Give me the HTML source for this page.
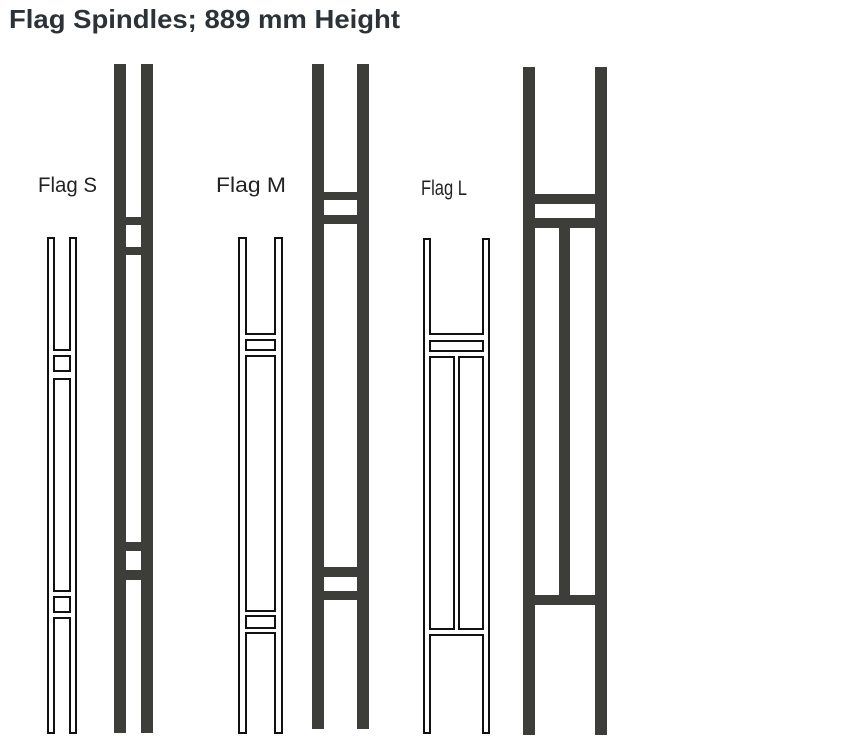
<!DOCTYPE html>
<html><head><meta charset="utf-8"><style>
html,body{margin:0;padding:0;background:#fff;}
svg{display:block;}
</style></head><body>
<svg width="855" height="737" viewBox="0 0 855 737" xmlns="http://www.w3.org/2000/svg">
<text x="9" y="28" font-family="Liberation Sans, sans-serif" font-weight="bold" font-size="26" fill="#2b3338" textLength="391" lengthAdjust="spacingAndGlyphs">Flag Spindles; 889 mm Height</text>
<g font-family="Liberation Sans, sans-serif" font-size="21" fill="#222">
<text x="38" y="192" textLength="59" lengthAdjust="spacingAndGlyphs">Flag S</text>
<text x="216" y="192" textLength="70" lengthAdjust="spacingAndGlyphs">Flag M</text>
<text x="421" y="195" textLength="46" lengthAdjust="spacingAndGlyphs">Flag L</text>
</g>
<g fill="#3d3d39">
<rect x="114" y="64" width="12" height="669"/>
<rect x="141" y="64" width="12" height="669"/>
<rect x="114" y="217" width="39" height="8"/>
<rect x="114" y="247" width="39" height="8"/>
<rect x="114" y="542" width="39" height="9"/>
<rect x="114" y="570" width="39" height="10"/>
<rect x="312" y="64" width="12" height="665"/>
<rect x="357" y="64" width="12" height="665"/>
<rect x="312" y="192" width="57" height="8"/>
<rect x="312" y="215" width="57" height="9"/>
<rect x="312" y="567" width="57" height="10"/>
<rect x="312" y="591" width="57" height="9"/>
<rect x="523" y="67" width="12" height="668"/>
<rect x="595" y="67" width="12" height="668"/>
<rect x="523" y="194" width="84" height="10"/>
<rect x="523" y="218" width="84" height="10"/>
<rect x="559" y="218" width="11" height="385"/>
<rect x="523" y="595" width="84" height="10"/>
</g>
<g fill="#111">
<rect x="47" y="237" width="8" height="497"/>
<rect x="69" y="237" width="8" height="497"/>
<rect x="47" y="349" width="30" height="8"/>
<rect x="47" y="370" width="30" height="10"/>
<rect x="47" y="590" width="30" height="8"/>
<rect x="47" y="611" width="30" height="8"/>
<rect x="238" y="237" width="9" height="497"/>
<rect x="274" y="237" width="9" height="497"/>
<rect x="238" y="333" width="45" height="8"/>
<rect x="238" y="349" width="45" height="8"/>
<rect x="238" y="610" width="45" height="7"/>
<rect x="238" y="627" width="45" height="7"/>
<rect x="423" y="238" width="8" height="496"/>
<rect x="482" y="238" width="8" height="496"/>
<rect x="423" y="333" width="67" height="9"/>
<rect x="423" y="350" width="67" height="8"/>
<rect x="453" y="350" width="7" height="286"/>
<rect x="423" y="628" width="67" height="8"/>
</g>
<g fill="#fff">
<rect x="49" y="239" width="4" height="493"/>
<rect x="71" y="239" width="4" height="493"/>
<rect x="49" y="351" width="26" height="4"/>
<rect x="49" y="372" width="26" height="6"/>
<rect x="49" y="592" width="26" height="4"/>
<rect x="49" y="613" width="26" height="4"/>
<rect x="240" y="239" width="5" height="493"/>
<rect x="276" y="239" width="5" height="493"/>
<rect x="240" y="335" width="41" height="4"/>
<rect x="240" y="351" width="41" height="4"/>
<rect x="240" y="612" width="41" height="3"/>
<rect x="240" y="629" width="41" height="3"/>
<rect x="425" y="240" width="4" height="492"/>
<rect x="484" y="240" width="4" height="492"/>
<rect x="425" y="335" width="63" height="5"/>
<rect x="425" y="352" width="63" height="4"/>
<rect x="455" y="352" width="3" height="282"/>
<rect x="425" y="630" width="63" height="4"/>
</g>
</svg>
</body></html>
